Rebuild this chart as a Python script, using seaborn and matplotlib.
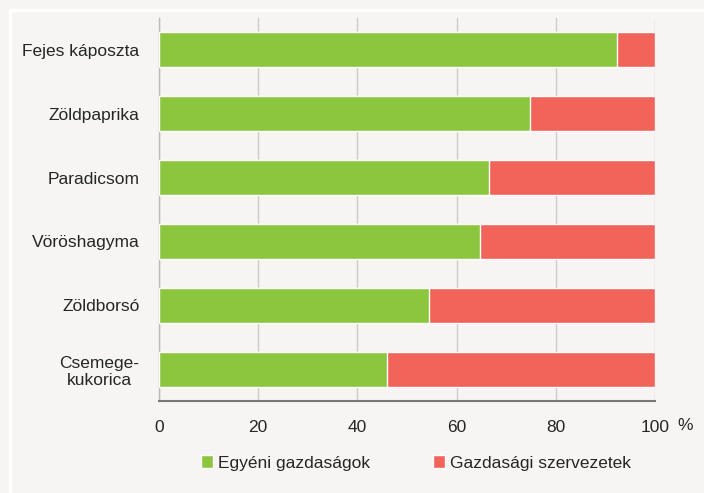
import seaborn as sns
import pandas as pd
import matplotlib.pyplot as plt
from matplotlib.lines import Line2D
from matplotlib.patches import Patch

# adatok
kategoriak = ["Fejes káposzta", "Zöldpaprika", "Paradicsom", "Vöröshagyma",
              "Zöldborsó", "Csemege-\nkukorica"]
egyeni = [92.3, 74.8, 66.5, 64.7, 54.4, 46.0]
szervezet = [100 - v for v in egyeni]
xticks = [0, 20, 40, 60, 80, 100]

zold = "#8cc63f"
piros = "#f26359"
hatter = "#f6f5f3"

sns.set_style("white")
plt.rcParams["font.family"] = ["Liberation Sans Narrow", "Liberation Sans", "DejaVu Sans"]

df = pd.DataFrame({"Termek": kategoriak, "Egyeni": egyeni, "Szervezet": szervezet})
df["Osszes"] = df["Egyeni"] + df["Szervezet"]

fig = plt.figure(figsize=(7.04, 4.93), dpi=100, facecolor=hatter)
ax = fig.add_axes([0.2259, 0.1866, 0.7045, 0.7769])
ax.set_facecolor(hatter)

sns.barplot(data=df, x="Osszes", y="Termek", color=piros, width=0.55,
            saturation=1, ax=ax, zorder=3)
sns.barplot(data=df, x="Egyeni", y="Termek", color=zold, width=0.55,
            saturation=1, ax=ax, zorder=3)

ax.set_xlim(0, 100)
ax.set_ylim(5.5, -0.5)
ax.set_xticks(xticks)
ax.set_xticklabels([str(t) for t in xticks], fontsize=12.5)
ax.tick_params(axis="y", length=0, pad=14, labelsize=12.5)
ax.tick_params(axis="x", length=6, width=1.5, color="#777777", direction="out", pad=8)
for lab in ax.get_yticklabels():
    lab.set_multialignment("center")
ax.set_xlabel("")
ax.set_ylabel("")

ax.grid(axis="x", color="#cccccc", linewidth=1, zorder=0)
for s in ["top", "right"]:
    ax.spines[s].set_visible(False)
ax.spines["left"].set_color("#bbbbbb")
ax.spines["left"].set_linewidth(1)
ax.spines["bottom"].set_color("#777777")
ax.spines["bottom"].set_linewidth(1.5)
ax.spines["bottom"].set_zorder(4)

fig.text(685 / 704, 1 - 425 / 493, "%", fontsize=12.5, ha="center", va="center")

handles = [Patch(facecolor=zold, label="Egyéni gazdaságok"),
           Patch(facecolor=piros, label="Gazdasági szervezetek")]
fig.legend(handles=handles, loc="center", bbox_to_anchor=(0.591, 1 - 463 / 493),
           ncol=2, frameon=False, fontsize=12.5, handlelength=0.7, handleheight=0.7,
           handletextpad=0.3, columnspacing=3.6)

fig.add_artist(Line2D([10 / 704, 10 / 704], [0, 1 - 10 / 493], color="white",
                      linewidth=2.5, transform=fig.transFigure))
fig.add_artist(Line2D([10 / 704, 1], [1 - 10 / 493, 1 - 10 / 493], color="white",
                      linewidth=2.5, transform=fig.transFigure))

fig.savefig("out.png", dpi=100, facecolor=hatter)
